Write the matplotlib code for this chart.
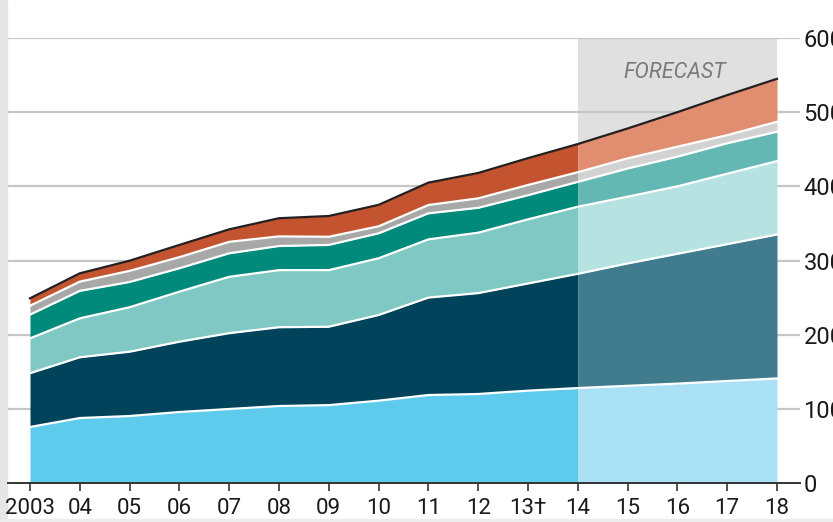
import matplotlib
matplotlib.use("Agg")
import matplotlib.pyplot as plt
import numpy as np

plt.rcParams['font.family'] = ['Roboto', 'DejaVu Sans']

years = list(range(2003, 2019))
year_labels = ["2003", "04", "05", "06", "07", "08", "09", "10", "11", "12",
               "13\u2020", "14", "15", "16", "17", "18"]

s_lightblue = [75.5, 87.6, 90.3, 95.7, 99.8, 103.8, 105, 111, 118.6, 120, 124.5, 128, 131, 134, 137.5, 141]
s_navy      = [72.5, 81.9, 86.7, 94.8, 102.2, 106.2, 105.7, 115.5, 131.4, 136, 144.5, 154, 165, 175, 184.5, 194]
s_ltteal    = [47, 52.5, 60, 67.5, 76, 77, 76.3, 76.5, 78.5, 81.5, 86.5, 90.5, 90, 91, 95, 99]
s_teal      = [32, 37, 34, 31.5, 31.7, 32.5, 34, 33.6, 35.1, 33.5, 32.5, 33.5, 38, 40, 41, 39.6]
s_gray      = [12, 12.5, 15, 15, 15.5, 13, 11, 9.5, 11.2, 12.8, 13.8, 13, 13.7, 13.4, 11, 13.4]
s_red       = [10, 11.2, 13.7, 16.5, 16.8, 24.5, 28, 28.9, 30.2, 34.2, 36.2, 38, 40.3, 46.6, 54, 58]

forecast_start = 2014
forecast_label = "FORECAST"
yticks = [0, 100, 200, 300, 400, 500, 600]

hist_colors = ['#5ecbed', '#00435a', '#7fc8c4', '#008a7c', '#a8a8a8', '#c4532f']
fc_colors   = ['#abe1f5', '#417b8e', '#b6e3e1', '#63b8b3', '#d2d2d2', '#e08d70']

W, H = 833, 522
fig = plt.figure(figsize=(W / 100, H / 100), dpi=100)
fig.patch.set_facecolor('white')

# frame strips
fig.add_artist(plt.Rectangle((0, 0), 7 / W, 1, transform=fig.transFigure,
                             color='#e6e6e6', zorder=0))
fig.add_artist(plt.Rectangle((0, 0), 1, 3 / H, transform=fig.transFigure,
                             color='#ececec', zorder=0))

x0px, x1px = 8, 800
y0px, y1px = 483, 38
ax = fig.add_axes([x0px / W, (H - y0px) / H, (x1px - x0px) / W, (y0px - y1px) / H])
ppy = (777 - 30) / 15.0
ax.set_xlim(2003 - (30 - x0px) / ppy, 2018 + (x1px - 777) / ppy)
ax.set_ylim(0, 600)
ax.set_facecolor('none')

x = np.array(years, dtype=float)
series = [np.array(s) for s in [s_lightblue, s_navy, s_ltteal, s_teal, s_gray, s_red]]
cum = np.cumsum(np.vstack(series), axis=0)

# forecast shading
ax.axvspan(forecast_start, years[-1], ymin=0, ymax=1, color='#e0e0e0', zorder=0, lw=0)

# gridlines
for v in yticks[1:]:
    ax.axhline(v, color='#c6c6c6', lw=1.6, zorder=1)

hmask = x <= forecast_start
fmask = x >= forecast_start
prev = np.zeros_like(x)
for i in range(len(series)):
    top = cum[i]
    ax.fill_between(x[hmask], prev[hmask], top[hmask], color=hist_colors[i], lw=0, zorder=2)
    ax.fill_between(x[fmask], prev[fmask], top[fmask], color=fc_colors[i], lw=0, zorder=2)
    if i < len(series) - 1:
        ax.plot(x, top, color='white', lw=1.6, zorder=3, solid_joinstyle='round')
    prev = top
ax.plot(x, cum[-1], color='#231f20', lw=1.6, zorder=4)

ax.text(2016 - 0.05, 553, forecast_label, fontsize=15.5, style='italic', color='#7a7a7a',
        ha='center', va='center', zorder=5)

for s in ['top', 'left', 'right']:
    ax.spines[s].set_visible(False)
ax.spines['bottom'].set_color('#333333')
ax.spines['bottom'].set_linewidth(1.4)
ax.spines['bottom'].set_zorder(6)

ax.set_xticks(years)
ax.set_xticklabels(year_labels)
ax.tick_params(axis='x', direction='out', length=6, width=1.2, color='#333333',
               labelsize=16, pad=5, labelcolor='#1a1a1a')
ax.yaxis.tick_right()
ax.set_yticks(yticks)
ax.set_yticklabels([str(v) for v in yticks])
ax.tick_params(axis='y', length=0, labelsize=17, pad=2.5, labelcolor='#1a1a1a')

fig.savefig('out.png', dpi=100)
